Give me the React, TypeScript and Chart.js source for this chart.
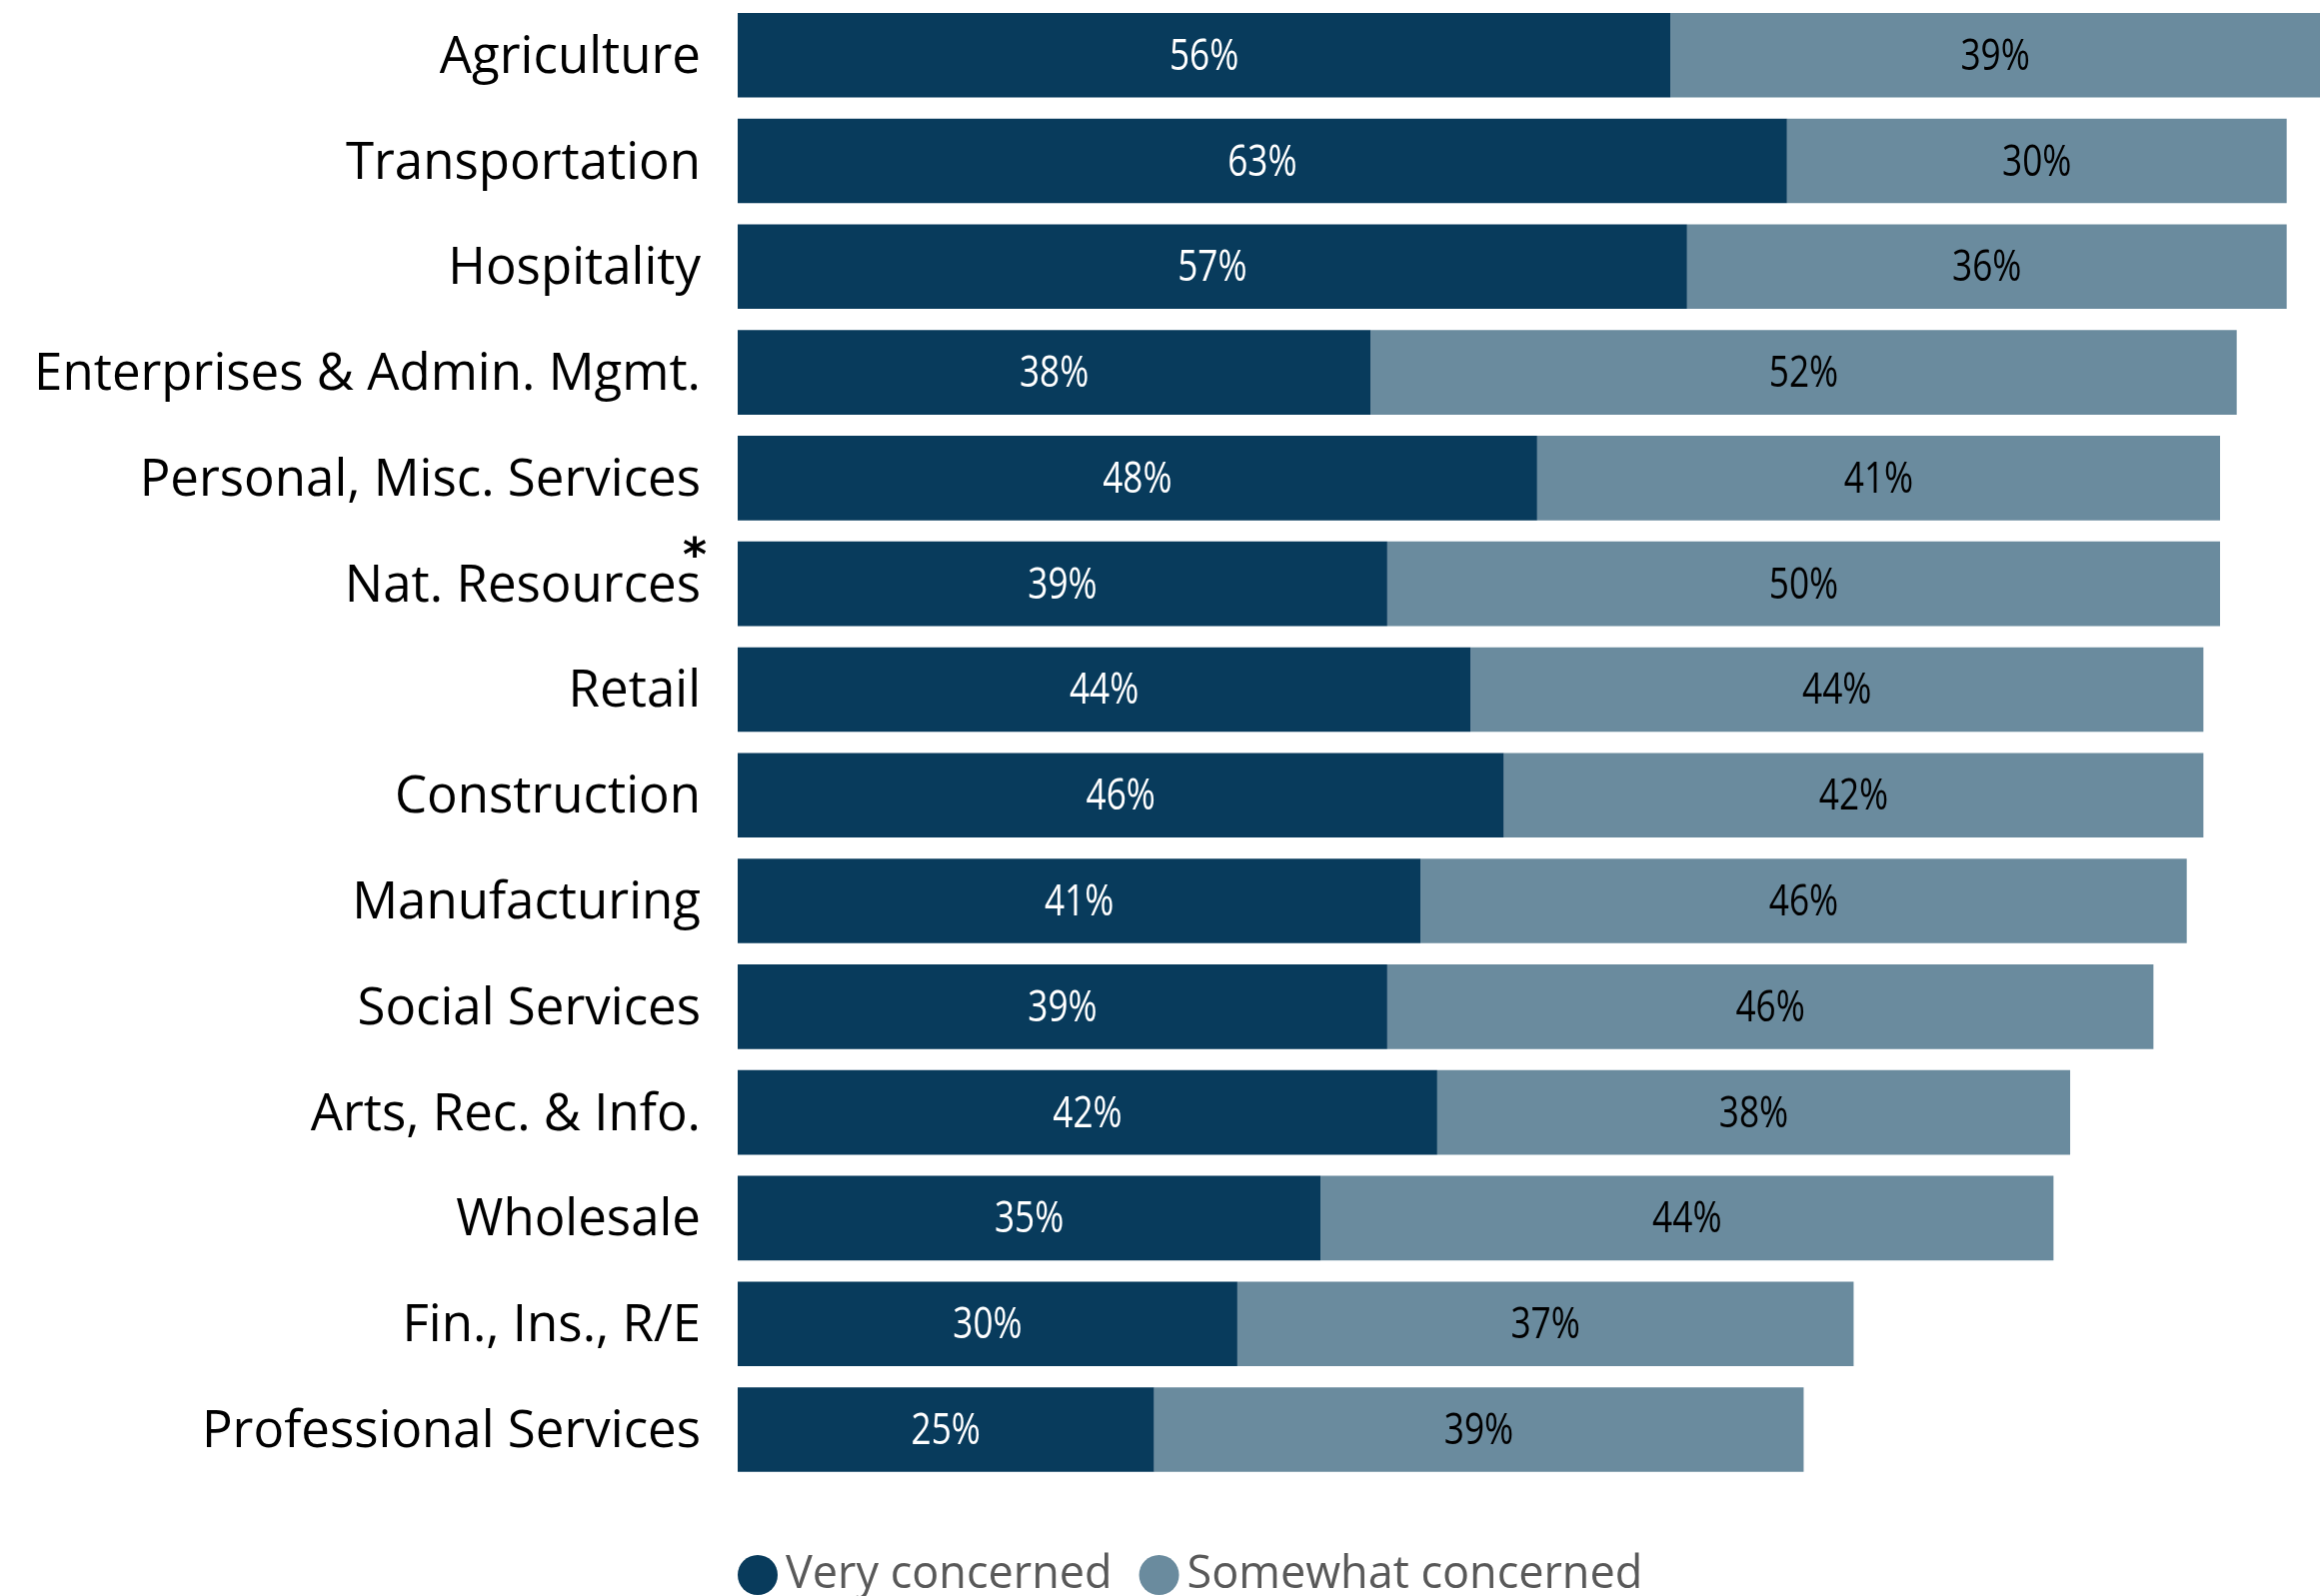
import React, { useEffect, useRef } from "react";
import { Chart, registerables } from "chart.js";

Chart.register(...registerables);

const categories = [
  "Agriculture",
  "Transportation",
  "Hospitality",
  "Enterprises & Admin. Mgmt.",
  "Personal, Misc. Services",
  "Nat. Resources",
  "Retail",
  "Construction",
  "Manufacturing",
  "Social Services",
  "Arts, Rec. & Info.",
  "Wholesale",
  "Fin., Ins., R/E",
  "Professional Services",
];
const veryConcerned = [56, 63, 57, 38, 48, 39, 44, 46, 41, 39, 42, 35, 30, 25];
const somewhatConcerned = [39, 30, 36, 52, 41, 50, 44, 42, 46, 46, 38, 44, 37, 39];
const seriesNames = ["Very concerned", "Somewhat concerned"];
const seriesColors = ["#083b5c", "#6a8b9e"];
const labelTextColors = ["#ffffff", "#000000"];
const asteriskCategory = "Nat. Resources";

const LABEL_FONT = '"Open Sans", "DejaVu Sans", sans-serif';
const VALUE_FONT = '"Open Sans", "DejaVu Sans", sans-serif';

const segmentLabels = {
  id: "segmentLabels",
  afterDatasetsDraw(chart: any) {
    const ctx = chart.ctx;
    const sx = 0.8;
    ctx.save();
    ctx.font = `44px ${VALUE_FONT}`;
    ctx.textAlign = "center";
    ctx.textBaseline = "middle";
    chart.data.datasets.forEach((ds: any, i: number) => {
      const meta = chart.getDatasetMeta(i);
      ctx.fillStyle = labelTextColors[i];
      meta.data.forEach((el: any, j: number) => {
        const { x, y, base } = el.getProps(["x", "y", "base"], true);
        const cx = (x + base) / 2;
        ctx.save();
        ctx.translate(cx, y + 2);
        ctx.scale(sx, 1);
        ctx.fillText(`${ds.data[j]}%`, 0, 0);
        ctx.restore();
      });
    });
    ctx.restore();
  },
};

const asteriskPlugin = {
  id: "asterisk",
  afterDraw(chart: any) {
    const yScale = chart.scales.y;
    const idx = categories.indexOf(asteriskCategory);
    if (idx < 0) return;
    const y = yScale.getPixelForTick(idx);
    const ctx = chart.ctx;
    ctx.save();
    ctx.font = `bold 46px "DejaVu Sans", sans-serif`;
    ctx.fillStyle = "#000000";
    ctx.textAlign = "center";
    ctx.textBaseline = "alphabetic";
    ctx.fillText("*", chart.chartArea.left - 43, y - 13);
    ctx.restore();
  },
};

const customLegend = {
  id: "customLegend",
  afterDraw(chart: any) {
    const ctx = chart.ctx;
    const area = chart.chartArea;
    ctx.save();
    ctx.font = `45px ${LABEL_FONT}`;
    ctx.textBaseline = "middle";
    ctx.textAlign = "left";
    let x = area.left;
    const cy = 1576;
    const r = 20;
    chart.data.datasets.forEach((ds: any, i: number) => {
      ctx.fillStyle = ds.backgroundColor;
      ctx.beginPath();
      ctx.arc(x + r, cy, r, 0, Math.PI * 2);
      ctx.fill();
      const tx = x + r + 28;
      ctx.fillStyle = "#595959";
      ctx.fillText(ds.label, tx, cy);
      x = tx + ctx.measureText(ds.label).width + 27;
    });
    ctx.restore();
  },
};

export default function App() {
  const canvasRef = useRef<HTMLCanvasElement | null>(null);

  useEffect(() => {
    const canvas = canvasRef.current;
    if (!canvas) return;
    const chart = new Chart(canvas, {
      type: "bar",
      data: {
        labels: categories,
        datasets: [
          {
            label: seriesNames[0],
            data: veryConcerned,
            backgroundColor: seriesColors[0],
            borderWidth: 0,
            categoryPercentage: 1,
            barPercentage: 0.8,
          },
          {
            label: seriesNames[1],
            data: somewhatConcerned,
            backgroundColor: seriesColors[1],
            borderWidth: 0,
            categoryPercentage: 1,
            barPercentage: 0.8,
          },
        ],
      },
      options: {
        indexAxis: "y",
        responsive: false,
        animation: false,
        devicePixelRatio: 1,
        layout: { padding: { top: 2.3, bottom: 113.6, left: 0, right: 0 } },
        plugins: {
          legend: { display: false },
          tooltip: { enabled: false },
        },
        scales: {
          x: {
            stacked: true,
            min: 0,
            max: 95,
            display: false,
          },
          y: {
            stacked: true,
            grid: { display: false, drawTicks: false },
            border: { display: false },
            ticks: {
              padding: 37,
              labelOffset: 3,
              color: "#000000",
              font: { family: LABEL_FONT, size: 51 },
              autoSkip: false,
            },
            afterFit(scale: any) {
              scale.width = 738;
              scale.paddingTop = 0;
              scale.paddingBottom = 0;
            },
          },
        },
      },
      plugins: [segmentLabels, asteriskPlugin, customLegend],
    });
    return () => chart.destroy();
  }, []);

  return (
    <div style={{ position: "absolute", left: 0, top: 0, width: 2321, height: 1597, background: "#ffffff" }}>
      <canvas ref={canvasRef} width={2321} height={1597} style={{ width: 2321, height: 1597, display: "block" }} />
    </div>
  );
}
